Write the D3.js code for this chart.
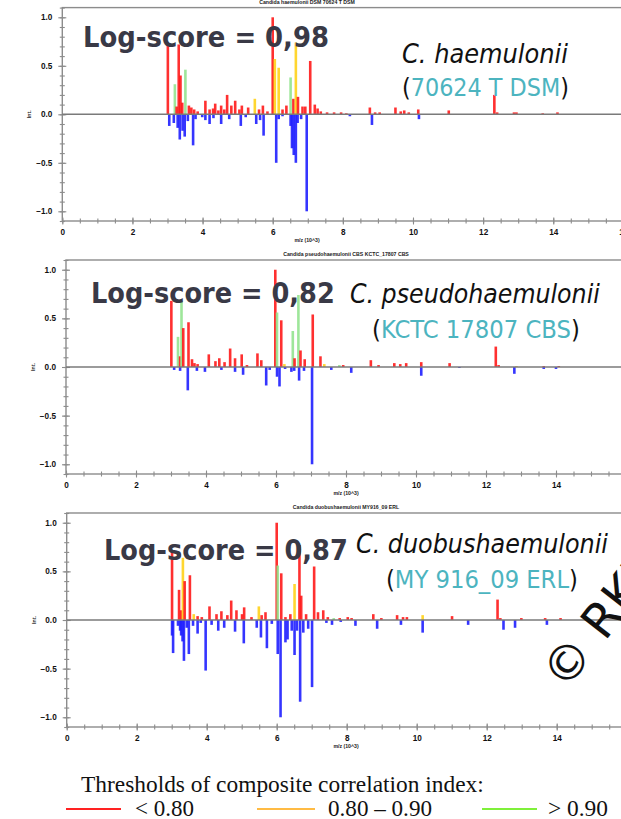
<!DOCTYPE html>
<html>
<head>
<meta charset="utf-8">
<script src="https://cdn.jsdelivr.net/npm/d3@7"></script>
<style>
  body { margin: 0; background: #fff; }
  svg { display: block; }
</style>
</head>
<body>
<div id="chart"></div>
<script>
// peaks: [m/z (x10^3), relative intensity, correlation class]
// r = < 0.80, o = 0.80-0.90, g = > 0.90 ; reference spectra are drawn downwards
const haemTop = [[3.01,0.71,"r"],[3.21,0.31,"g"],[3.26,0.08,"r"],[3.32,0.72,"r"],[3.37,0.40,"r"],[3.42,0.12,"r"],[3.51,0.46,"g"],[3.61,0.09,"r"],[3.68,0.07,"r"],[3.76,0.05,"r"],[3.86,0.03,"r"],[4.08,0.14,"r"],[4.20,0.05,"r"],[4.30,0.06,"r"],[4.36,0.11,"r"],[4.45,0.04,"r"],[4.53,0.09,"r"],[4.62,0.05,"r"],[4.70,0.20,"r"],[4.82,0.09,"r"],[4.93,0.14,"r"],[5.05,0.05,"r"],[5.12,0.09,"r"],[5.30,0.07,"r"],[5.49,0.16,"o"],[5.61,0.05,"r"],[5.72,0.09,"r"],[5.85,0.03,"r"],[6.00,1.00,"r"],[6.06,0.57,"o"],[6.17,0.48,"o"],[6.28,0.05,"r"],[6.39,0.09,"r"],[6.51,0.38,"g"],[6.59,0.16,"r"],[6.66,0.74,"o"],[6.72,0.18,"r"],[6.85,0.08,"r"],[6.93,0.08,"r"],[7.07,0.55,"r"],[7.20,0.10,"r"],[7.28,0.06,"r"],[7.37,0.03,"r"],[7.55,0.02,"r"],[7.75,0.02,"r"],[7.95,0.02,"r"],[8.10,0.01,"r"],[8.77,0.07,"r"],[8.92,0.02,"r"],[9.05,0.02,"r"],[9.50,0.07,"r"],[9.65,0.03,"r"],[9.75,0.04,"r"],[9.88,0.02,"r"],[10.15,0.05,"r"],[11.02,0.04,"r"],[12.32,0.20,"r"],[12.40,0.02,"r"],[12.88,0.02,"r"],[12.95,0.02,"r"],[13.70,0.01,"r"],[14.12,0.02,"r"]];
const haemRef = [[3.05,0.12],[3.18,0.09],[3.29,0.14],[3.35,0.26],[3.43,0.17],[3.49,0.23],[3.58,0.07],[3.73,0.32],[3.80,0.05],[3.99,0.03],[4.08,0.06],[4.20,0.10],[4.31,0.04],[4.53,0.10],[4.76,0.05],[5.09,0.12],[5.23,0.03],[5.53,0.10],[5.64,0.06],[5.74,0.22],[6.10,0.50],[6.17,0.05],[6.28,0.02],[6.51,0.12],[6.55,0.35],[6.60,0.42],[6.66,0.50],[6.71,0.09],[6.81,0.05],[6.97,1.00],[8.20,0.02],[8.83,0.11],[10.17,0.05]];

const pseudoTop = [[3.01,0.68,"r"],[3.20,0.31,"g"],[3.26,0.11,"r"],[3.30,0.68,"g"],[3.35,0.40,"r"],[3.50,0.46,"r"],[3.60,0.08,"r"],[3.67,0.04,"r"],[3.76,0.03,"r"],[4.08,0.13,"r"],[4.27,0.06,"r"],[4.38,0.09,"r"],[4.53,0.05,"r"],[4.69,0.19,"r"],[4.83,0.09,"r"],[5.02,0.13,"r"],[5.17,0.02,"r"],[5.47,0.14,"r"],[5.58,0.07,"r"],[5.98,1.00,"r"],[6.03,0.56,"g"],[6.15,0.48,"r"],[6.24,0.03,"o"],[6.48,0.37,"g"],[6.53,0.09,"r"],[6.64,0.74,"g"],[6.70,0.17,"r"],[6.82,0.08,"r"],[7.05,0.54,"r"],[7.27,0.11,"r"],[7.38,0.03,"o"],[7.81,0.02,"g"],[7.92,0.02,"r"],[8.71,0.07,"r"],[8.93,0.02,"r"],[9.38,0.04,"r"],[9.55,0.03,"r"],[9.72,0.04,"r"],[10.15,0.05,"r"],[10.96,0.04,"r"],[12.28,0.21,"r"],[12.36,0.02,"r"],[12.87,0.01,"o"],[13.65,0.01,"r"],[14.08,0.01,"r"]];
const pseudoRef = [[3.09,0.03],[3.26,0.04],[3.48,0.24],[3.74,0.04],[3.97,0.05],[4.44,0.03],[4.83,0.05],[5.06,0.08],[5.72,0.19],[5.82,0.03],[6.03,0.10],[6.10,0.20],[6.26,0.02],[6.44,0.05],[6.52,0.04],[6.66,0.14],[6.80,0.04],[7.03,1.00],[7.58,0.03],[8.15,0.06],[10.15,0.09],[11.24,0.01],[12.81,0.07],[13.65,0.02],[14.00,0.02]];

const duobTop = [[3.01,0.72,"r"],[3.21,0.31,"r"],[3.27,0.10,"r"],[3.32,0.64,"o"],[3.37,0.40,"r"],[3.52,0.46,"r"],[3.63,0.06,"o"],[3.74,0.04,"r"],[3.86,0.03,"r"],[4.08,0.14,"r"],[4.28,0.06,"r"],[4.42,0.09,"r"],[4.59,0.05,"r"],[4.70,0.20,"r"],[4.85,0.10,"r"],[5.01,0.06,"r"],[5.07,0.13,"r"],[5.28,0.03,"r"],[5.49,0.14,"o"],[5.57,0.05,"r"],[5.68,0.08,"r"],[6.00,1.00,"r"],[6.03,0.56,"g"],[6.13,0.48,"r"],[6.25,0.03,"r"],[6.39,0.06,"r"],[6.51,0.37,"o"],[6.65,0.77,"r"],[6.70,0.25,"r"],[6.84,0.06,"r"],[7.07,0.55,"r"],[7.18,0.08,"r"],[7.33,0.10,"r"],[7.46,0.03,"r"],[7.63,0.02,"g"],[7.80,0.02,"r"],[8.03,0.03,"r"],[8.14,0.02,"r"],[8.76,0.06,"r"],[8.99,0.02,"r"],[9.44,0.05,"r"],[9.61,0.03,"r"],[9.72,0.03,"r"],[10.17,0.05,"o"],[11.01,0.04,"r"],[12.31,0.21,"r"],[12.39,0.02,"r"],[12.99,0.02,"r"],[13.67,0.02,"r"],[14.11,0.02,"r"]];
const duobRef = [[3.01,0.16],[3.04,0.34],[3.18,0.06],[3.24,0.11],[3.27,0.16],[3.31,0.22],[3.35,0.42],[3.43,0.08],[3.49,0.35],[3.61,0.06],[3.74,0.14],[3.83,0.03],[3.97,0.52],[4.14,0.05],[4.33,0.11],[4.50,0.08],[4.81,0.12],[5.06,0.24],[5.43,0.08],[5.55,0.18],[5.72,0.29],[5.86,0.04],[6.03,0.35],[6.11,1.00],[6.25,0.23],[6.31,0.20],[6.43,0.11],[6.51,0.36],[6.58,0.11],[6.67,0.84],[6.76,0.13],[6.90,0.09],[7.01,0.69],[7.42,0.03],[7.58,0.05],[7.83,0.02],[8.25,0.06],[8.87,0.09],[9.55,0.05],[10.17,0.13],[11.47,0.05],[12.48,0.10],[12.81,0.08],[13.72,0.05]];

const xTickValues = [0, 2, 4, 6, 8, 10, 12, 14, 16];
const yTickValues = [-1, -0.5, 0, 0.5, 1];
const titles = ["Candida haemulonii DSM 70624 T DSM", "Candida pseudohaemulonii CBS KCTC_17807 CBS", "Candida duobushaemulonii MY916_09 ERL"];
const scores = ["0,98", "0,82", "0,87"];
const species = ["C. haemulonii", "C. pseudohaemulonii", "C. duobushaemulonii"];
const strains = ["70624 T DSM", "KCTC 17807 CBS", "MY 916_09 ERL"];
const legendTitle = "Thresholds of composite correlation index:";
const legendLabels = ["< 0.80", "0.80 \u2013 0.90", "> 0.90"];

const W = 621, H = 819;
const peakColor = {r: "#ff1a1a", o: "#ffd21a", g: "#93e38f"};
const refColor = "#1f1fff";
const legendColor = ["#ff2222", "#ffbb44", "#7ff03a"];

const svg = d3.select("#chart").append("svg")
  .attr("width", W).attr("height", H)
  .style("font-family", "'Liberation Sans', Arial, sans-serif");

// panel frames (pixel boxes)
const panels = [
  {top: haemTop,   ref: haemRef,   left: 62.3, right: 623.4, y0: 221, y1: 7.6, mzX: 307,
   score: [83, 47, 246], sp: [402, 63, 166], st: [402, 96, 167]},
  {top: pseudoTop, ref: pseudoRef, left: 66,   right: 626,   y0: 474, y1: 260, mzX: 346,
   score: [91, 303, 244], sp: [350, 303, 250], st: [372, 338, 208]},
  {top: duobTop,   ref: duobRef,   left: 66.7, right: 626.7, y0: 727, y1: 513, mzX: 346,
   score: [104, 560, 244], sp: [356, 553, 252], st: [386, 588, 192]}
];

function fitWidth(text, width) {
  const len = text.node().getComputedTextLength();
  const fs = parseFloat(text.attr("font-size"));
  text.attr("font-size", fs * width / len);
}

function crossTicks(g, inner) {
  g.select(".domain").remove();
  g.selectAll(".tick line").attr("stroke", "#8c8c8c").attr("stroke-width", 1.1);
  g.selectAll(".tick line").each(function() {
    const l = d3.select(this);
    if (l.attr("x2") !== null && +l.attr("x2") !== 0) l.attr("x1", inner * Math.sign(+l.attr("x2")));
    else l.attr("y1", inner * Math.sign(+l.attr("y2")));
  });
  g.selectAll(".tick text").attr("fill", "#111").attr("font-weight", "bold")
    .attr("font-size", 8.2).attr("font-family", "'Liberation Sans', Arial, sans-serif");
}

panels.forEach((p, i) => {
  const x = d3.scaleLinear().domain([0, 16]).range([p.left, p.right]);
  const y = d3.scaleLinear().domain([-1.1, 1.1]).range([p.y0, p.y1]);
  const g = svg.append("g");

  // panel title
  g.append("text").attr("x", p.mzX).attr("y", p.y1 - 4).attr("text-anchor", "middle")
    .attr("font-size", 5.2).attr("font-weight", "bold").attr("fill", "#222").text(titles[i]);

  // minor + major ticks on all four sides
  const minor = d3.range(0, 16.01, 0.5);
  const minorY = d3.range(-1.1, 1.101, 0.1);
  g.append("g").attr("transform", `translate(0,${p.y0})`)
    .call(d3.axisBottom(x).tickValues(minor).tickSize(2.5).tickFormat("")).call(s => crossTicks(s, -2.5));
  g.append("g").attr("transform", `translate(0,${p.y0})`)
    .call(d3.axisBottom(x).tickValues(xTickValues).tickSize(3.5).tickPadding(5).tickFormat(d3.format("d")))
    .call(s => crossTicks(s, -3.5));
  g.append("g").attr("transform", `translate(0,${p.y1})`)
    .call(d3.axisTop(x).tickValues(minor).tickSize(2.5).tickFormat("")).call(s => crossTicks(s, 2.5));
  g.append("g").attr("transform", `translate(${p.left},0)`)
    .call(d3.axisLeft(y).tickValues(minorY).tickSize(2.5).tickFormat("")).call(s => crossTicks(s, -2.5));
  g.append("g").attr("transform", `translate(${p.left},0)`)
    .call(d3.axisLeft(y).tickValues(yTickValues).tickSize(4).tickPadding(6).tickFormat(d3.format(".1f")))
    .call(s => crossTicks(s, -4));
  g.append("g").attr("transform", `translate(${p.right},0)`)
    .call(d3.axisRight(y).tickValues(minorY).tickSize(2.5).tickFormat("")).call(s => crossTicks(s, 2.5));

  // frame
  g.append("rect").attr("x", p.left).attr("y", p.y1)
    .attr("width", p.right - p.left).attr("height", p.y0 - p.y1)
    .attr("fill", "none").attr("stroke", "#8c8c8c").attr("stroke-width", 1.4);

  // axis titles
  g.append("text").attr("x", p.mzX).attr("y", p.y0 + 21).attr("text-anchor", "middle")
    .attr("font-size", 5.2).attr("font-weight", "bold").attr("fill", "#222").text("m/z (10^3)");
  g.append("text").attr("transform", `translate(${p.left - 31},${y(0)}) rotate(-90)`)
    .attr("text-anchor", "middle").attr("font-size", 5.2).attr("font-weight", "bold")
    .attr("fill", "#222").text("Int.");

  // reference peaks (down) and sample peaks (up)
  g.append("g").selectAll("line").data(p.ref).join("line")
    .attr("x1", d => x(d[0])).attr("x2", d => x(d[0]))
    .attr("y1", y(0)).attr("y2", d => y(-d[1]))
    .attr("stroke", refColor).attr("stroke-width", 2.6).attr("stroke-opacity", 0.9);
  g.append("g").selectAll("line").data(p.top).join("line")
    .attr("x1", d => x(d[0])).attr("x2", d => x(d[0]))
    .attr("y1", y(0)).attr("y2", d => y(d[1]))
    .attr("stroke", d => peakColor[d[2]]).attr("stroke-width", 2.6).attr("stroke-opacity", 0.9);

  // zero line
  g.append("line").attr("x1", p.left).attr("x2", p.right).attr("y1", y(0)).attr("y2", y(0))
    .attr("stroke", "#7a7a7a").attr("stroke-width", 1.6);

  // annotations
  const sc = g.append("text").attr("x", p.score[0]).attr("y", p.score[1])
    .attr("font-family", "'DejaVu Sans Condensed', 'DejaVu Sans', sans-serif")
    .attr("font-weight", "bold").attr("font-size", 26).attr("fill", "#393946")
    .text(`Log-score = ${scores[i]}`);
  fitWidth(sc, p.score[2]);

  const spT = g.append("text").attr("x", p.sp[0]).attr("y", p.sp[1])
    .attr("font-family", "'DejaVu Sans Condensed', 'DejaVu Sans', sans-serif")
    .attr("font-style", "italic").attr("font-size", 21).attr("fill", "#111").text(species[i]);
  fitWidth(spT, p.sp[2]);

  const stT = g.append("text").attr("x", p.st[0]).attr("y", p.st[1])
    .attr("font-family", "'DejaVu Sans Condensed', 'DejaVu Sans', sans-serif")
    .attr("font-size", 21).attr("fill", "#111");
  stT.append("tspan").text("(");
  stT.append("tspan").attr("fill", "#4cb4bf").text(strains[i]);
  stT.append("tspan").text(")");
  fitWidth(stT, p.st[2]);
});

// watermark, partly outside the picture
svg.append("text").attr("transform", "translate(566,664) rotate(-52)")
  .attr("x", -22).attr("y", 17)
  .attr("font-family", "'DejaVu Sans', sans-serif").attr("font-size", 48)
  .attr("fill", "#111").text("\u00a9 RKI");

// legend
const lg = svg.append("g").attr("font-family", "'Liberation Serif', 'Times New Roman', serif").attr("fill", "#111");
const lt = lg.append("text").attr("x", 81).attr("y", 792).attr("font-size", 20).text(legendTitle);
fitWidth(lt, 403);
const legendX = [[66, 121, 135, 59], [257, 315, 328, 104], [482, 537, 548, 60]];
legendLabels.forEach((lab, i) => {
  lg.append("line").attr("x1", legendX[i][0]).attr("x2", legendX[i][1])
    .attr("y1", 809).attr("y2", 809).attr("stroke", legendColor[i]).attr("stroke-width", 2);
  const t = lg.append("text").attr("x", legendX[i][2]).attr("y", 816).attr("font-size", 21).text(lab);
  fitWidth(t, legendX[i][3]);
});
</script>
</body>
</html>
